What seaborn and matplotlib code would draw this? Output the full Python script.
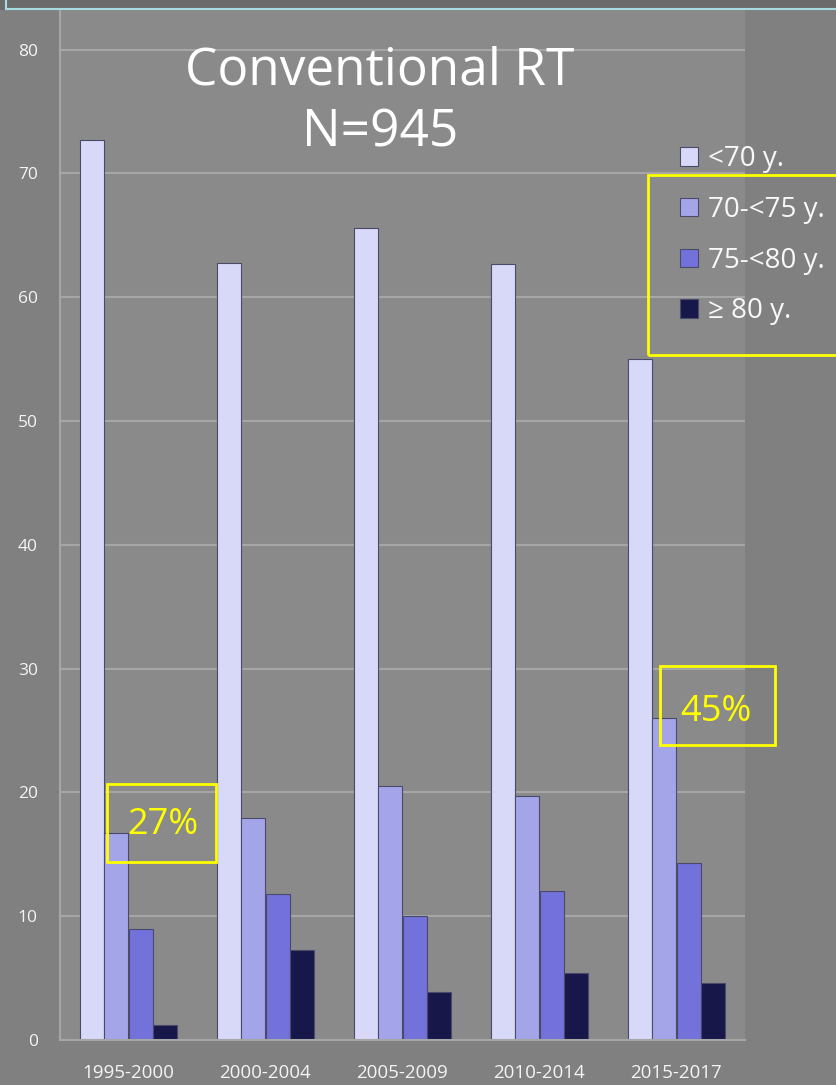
import matplotlib
matplotlib.use("Agg")
import matplotlib.pyplot as plt
import seaborn as sns
import pandas as pd
from matplotlib.patches import Rectangle

periods = ["1995-2000", "2000-2004", "2005-2009", "2010-2014", "2015-2017"]
age_groups = ["<70 y.", "70-<75 y.", "75-<80 y.", "\u2265 80 y."]
lt70 = [72.7, 62.8, 65.6, 62.7, 55.0]
a70_75 = [16.7, 17.9, 20.5, 19.7, 26.0]
a75_80 = [9.0, 11.8, 10.0, 12.0, 14.3]
ge80 = [1.2, 7.3, 3.9, 5.4, 4.6]
colors = ["#d8d8f8", "#a4a4e8", "#7272da", "#17174a"]
yticks = [0, 10, 20, 30, 40, 50, 60, 70, 80]

rows = []
for g, vals in zip(age_groups, [lt70, a70_75, a75_80, ge80]):
    for p, v in zip(periods, vals):
        rows.append({"period": p, "group": g, "value": v})
df = pd.DataFrame(rows)

sns.set_theme(style="white")
plt.rcParams["font.family"] = ["Open Sans", "DejaVu Sans"]

W, H = 837, 1085
fig = plt.figure(figsize=(W / 100, H / 100), dpi=100)
fig.patch.set_facecolor("#808080")

ax = fig.add_axes([60 / W, 45 / H, (745 - 60) / W, (1040 - 10) / H])
ax.set_facecolor("#8a8a8a")

sns.barplot(data=df, x="period", y="value", hue="group", order=periods,
            hue_order=age_groups, palette=colors, saturation=1, width=0.71, gap=0.02,
            edgecolor="#4a4a6a", linewidth=0.8, ax=ax, legend=True)

ax.set_xlim(-0.5, len(periods) - 0.5)
ax.set_ylim(0, 83.2)
ax.set_yticks(yticks)
ax.set_yticklabels([str(t) for t in yticks])
ax.set_xlabel("")
ax.set_ylabel("")
ax.yaxis.grid(True, color="#a6a6a6", linewidth=1.5)
ax.set_axisbelow(True)
for s in ["top", "right"]:
    ax.spines[s].set_visible(False)
for s in ["left", "bottom"]:
    ax.spines[s].set_color("#a6a6a6")
    ax.spines[s].set_linewidth(1.5)
ax.tick_params(axis="y", length=8, width=1.5, color="#a6a6a6", colors="#f4f4f4",
               labelsize=12.5, pad=8)
ax.tick_params(axis="x", which="major", length=0, colors="#f4f4f4",
               labelsize=13.5, pad=17)
ax.set_xticks([i - 0.5 for i in range(len(periods) + 1)], minor=True)
ax.tick_params(axis="x", which="minor", length=8, width=1.5, color="#a6a6a6")

# legend
handles, labels = ax.get_legend_handles_labels()
ax.get_legend().remove()
leg = fig.legend(handles, labels, loc="upper left",
                 bbox_to_anchor=(655 / W, 1 - 120 / H), frameon=False,
                 fontsize=20, handlelength=0.65, handleheight=0.65,
                 handletextpad=0.35, labelspacing=0.82)
for t in leg.get_texts():
    t.set_color("#f8f8f8")

# yellow box around legend entries
fig.patches.append(Rectangle((648 / W, 1 - 355 / H), (840 - 648) / W, (355 - 175) / H,
                             transform=fig.transFigure, fill=False,
                             edgecolor="#ffff00", linewidth=2))

# title
fig.text(380 / W, 1 - 71 / H, "Conventional RT", ha="center", va="center",
         fontsize=37, color="white")
fig.text(380 / W, 1 - 133 / H, "N=945", ha="center", va="center",
         fontsize=37, color="white")

# annotation boxes
fig.patches.append(Rectangle((107 / W, 1 - 862 / H), (216 - 107) / W, (862 - 784) / H,
                             transform=fig.transFigure, fill=False,
                             edgecolor="#ffff00", linewidth=2, zorder=5))
fig.text(163 / W, 1 - 825 / H, "27%", ha="center", va="center",
         fontsize=26, color="#ffff00", zorder=6)
fig.patches.append(Rectangle((660 / W, 1 - 745 / H), (775 - 660) / W, (745 - 666) / H,
                             transform=fig.transFigure, fill=False,
                             edgecolor="#ffff00", linewidth=2, zorder=5))
fig.text(716 / W, 1 - 712 / H, "45%", ha="center", va="center",
         fontsize=26, color="#ffff00", zorder=6)

# top strip
fig.patches.append(Rectangle((0, 1 - 10 / H), 1, 10 / H, transform=fig.transFigure,
                             facecolor="#6b6b6b", edgecolor="none", zorder=1))
fig.lines.append(plt.Line2D([6 / W, 1], [1 - 9 / H, 1 - 9 / H], transform=fig.transFigure,
                            color="#a8dce4", linewidth=1.5))
fig.lines.append(plt.Line2D([6 / W, 6 / W], [1 - 9 / H, 1], transform=fig.transFigure,
                            color="#a8dce4", linewidth=1.5))

fig.savefig("out.png", dpi=100, facecolor=fig.get_facecolor())
